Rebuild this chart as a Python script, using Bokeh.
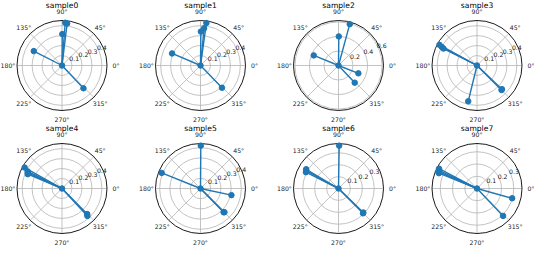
import numpy as np
from bokeh.plotting import figure
from bokeh.layouts import gridplot
from bokeh.models import Range1d, Label
from bokeh.core.properties import value
from bokeh.embed import file_html
from bokeh.resources import INLINE

# ---------------- data (angles in degrees, radii) ----------------
titles = ["sample0", "sample1", "sample2", "sample3",
          "sample4", "sample5", "sample6", "sample7"]

theta0 = [85.7, 83.0, 89.4, 153.0, 313.3]
r0 = [0.43, 0.425, 0.315, 0.318, 0.314]

theta1 = [82.1, 84.5, 89.4, 157.0, 314.0]
r1 = [0.43, 0.375, 0.34, 0.31, 0.31]

theta2 = [74.8, 89.4, 157.8, 338.5, 313.3]
r2 = [0.59, 0.40, 0.368, 0.294, 0.325]

theta3 = [151.2, 152.2, 153.2, 315.0, 316.5, 256.2]
r3 = [0.43, 0.40, 0.377, 0.348, 0.345, 0.37]

theta4 = [150.7, 153.5, 155.5, 157.3, 314.6, 312.8]
r4 = [0.43, 0.385, 0.378, 0.372, 0.36, 0.375]

theta5 = [89.6, 158.1, 347.9, 314.2, 315.3]
r5 = [0.42, 0.41, 0.31, 0.325, 0.33]

theta6 = [89.1, 149.2, 151.0, 153.4, 314.6, 316.0]
r6 = [0.36, 0.316, 0.31, 0.306, 0.293, 0.29]

theta7 = [152.4, 154.5, 156.6, 158.1, 344.5, 313.6]
r7 = [0.35, 0.34, 0.345, 0.335, 0.298, 0.309]

rticks_a = [0.1, 0.2, 0.3, 0.4]
rticks_b = [0.2, 0.4, 0.6]
rticks_c = [0.1, 0.2, 0.3]

thetas = [theta0, theta1, theta2, theta3, theta4, theta5, theta6, theta7]
radii = [r0, r1, r2, r3, r4, r5, r6, r7]
rticks = [rticks_a, rticks_a, rticks_b, rticks_a, rticks_a, rticks_a, rticks_c, rticks_c]

angle_ticks = [0, 45, 90, 135, 180, 225, 270, 315]
angle_labels = ["0°", "45°", "90°", "135°", "180°", "225°", "270°", "315°"]

# ---------------- styling / layout ----------------
BLUE = "#1f77b4"
GRID = "#b4b4b4"
TXT = "#222222"
FONT = "DejaVu Sans"
R_PX = 45
ROW_H = 123
COL_W = [130, 139, 138, 127]
CX = [61.5, 70, 69, 69.5]
CY = 65


def make(i):
    th = np.radians(np.array(thetas[i], dtype=float))
    r = np.array(radii[i], dtype=float)
    rt = np.array(rticks[i], dtype=float)
    rmax = 1.05 * r.max()
    s = rmax / R_PX
    w = COL_W[i % 4]
    cx = CX[i % 4]
    p = figure(width=w, height=ROW_H,
               x_range=Range1d(-cx * s, (w - cx) * s),
               y_range=Range1d(-(ROW_H - CY) * s, CY * s),
               output_backend="svg", toolbar_location=None,
               x_axis_location=None, y_axis_location=None,
               min_border=0, outline_line_color=None,
               background_fill_color="white", border_fill_color="white")
    p.grid.grid_line_color = None

    # radial grid rings and spokes
    rt_in = rt[rt < rmax]
    p.circle(x=np.zeros(len(rt_in)), y=np.zeros(len(rt_in)), radius=rt_in,
             fill_color=None, line_color=GRID, line_width=0.8)
    a = np.radians(np.array(angle_ticks, dtype=float))
    p.segment(x0=np.zeros(len(a)), y0=np.zeros(len(a)),
              x1=rmax * np.cos(a), y1=rmax * np.sin(a),
              line_color=GRID, line_width=0.8)
    # outer spine
    p.circle(x=[0], y=[0], radius=[rmax], fill_color=None,
             line_color="black", line_width=0.9)

    # angle labels
    ra = rmax + 9 * s
    p.text(x=ra * np.cos(a), y=ra * np.sin(a), text=angle_labels,
           text_font=value(FONT), text_font_size="6.2px", text_color=TXT,
           text_align="center", text_baseline="middle")
    # radial labels at 22.5 deg
    ang = np.radians(22.5)
    p.text(x=rt_in * np.cos(ang), y=rt_in * np.sin(ang),
           text=[f"{t:g}" for t in rt_in],
           text_font=value(FONT), text_font_size="6.2px", text_color=TXT,
           text_align="center", text_baseline="middle", x_offset=3, y_offset=-3)

    # data: spokes from the origin to each point
    x = r * np.cos(th)
    y = r * np.sin(th)
    p.segment(x0=np.zeros(len(x)), y0=np.zeros(len(x)), x1=x, y1=y,
              line_color=BLUE, line_width=1.4)
    p.scatter(x=np.append(x, 0.0), y=np.append(y, 0.0), size=5.5,
              fill_color=BLUE, line_color=BLUE)

    p.add_layout(Label(x=cx, y=ROW_H - (CY - (R_PX + 15)), x_units="screen",
                       y_units="screen", text=titles[i], text_align="center",
                       text_baseline="middle", text_font=FONT,
                       text_font_size="7.6px", text_color="black"))
    return p


figs = [make(i) for i in range(8)]
grid = gridplot(figs, ncols=4, toolbar_location=None)

open("out.html", "w").write(file_html(grid, INLINE))
